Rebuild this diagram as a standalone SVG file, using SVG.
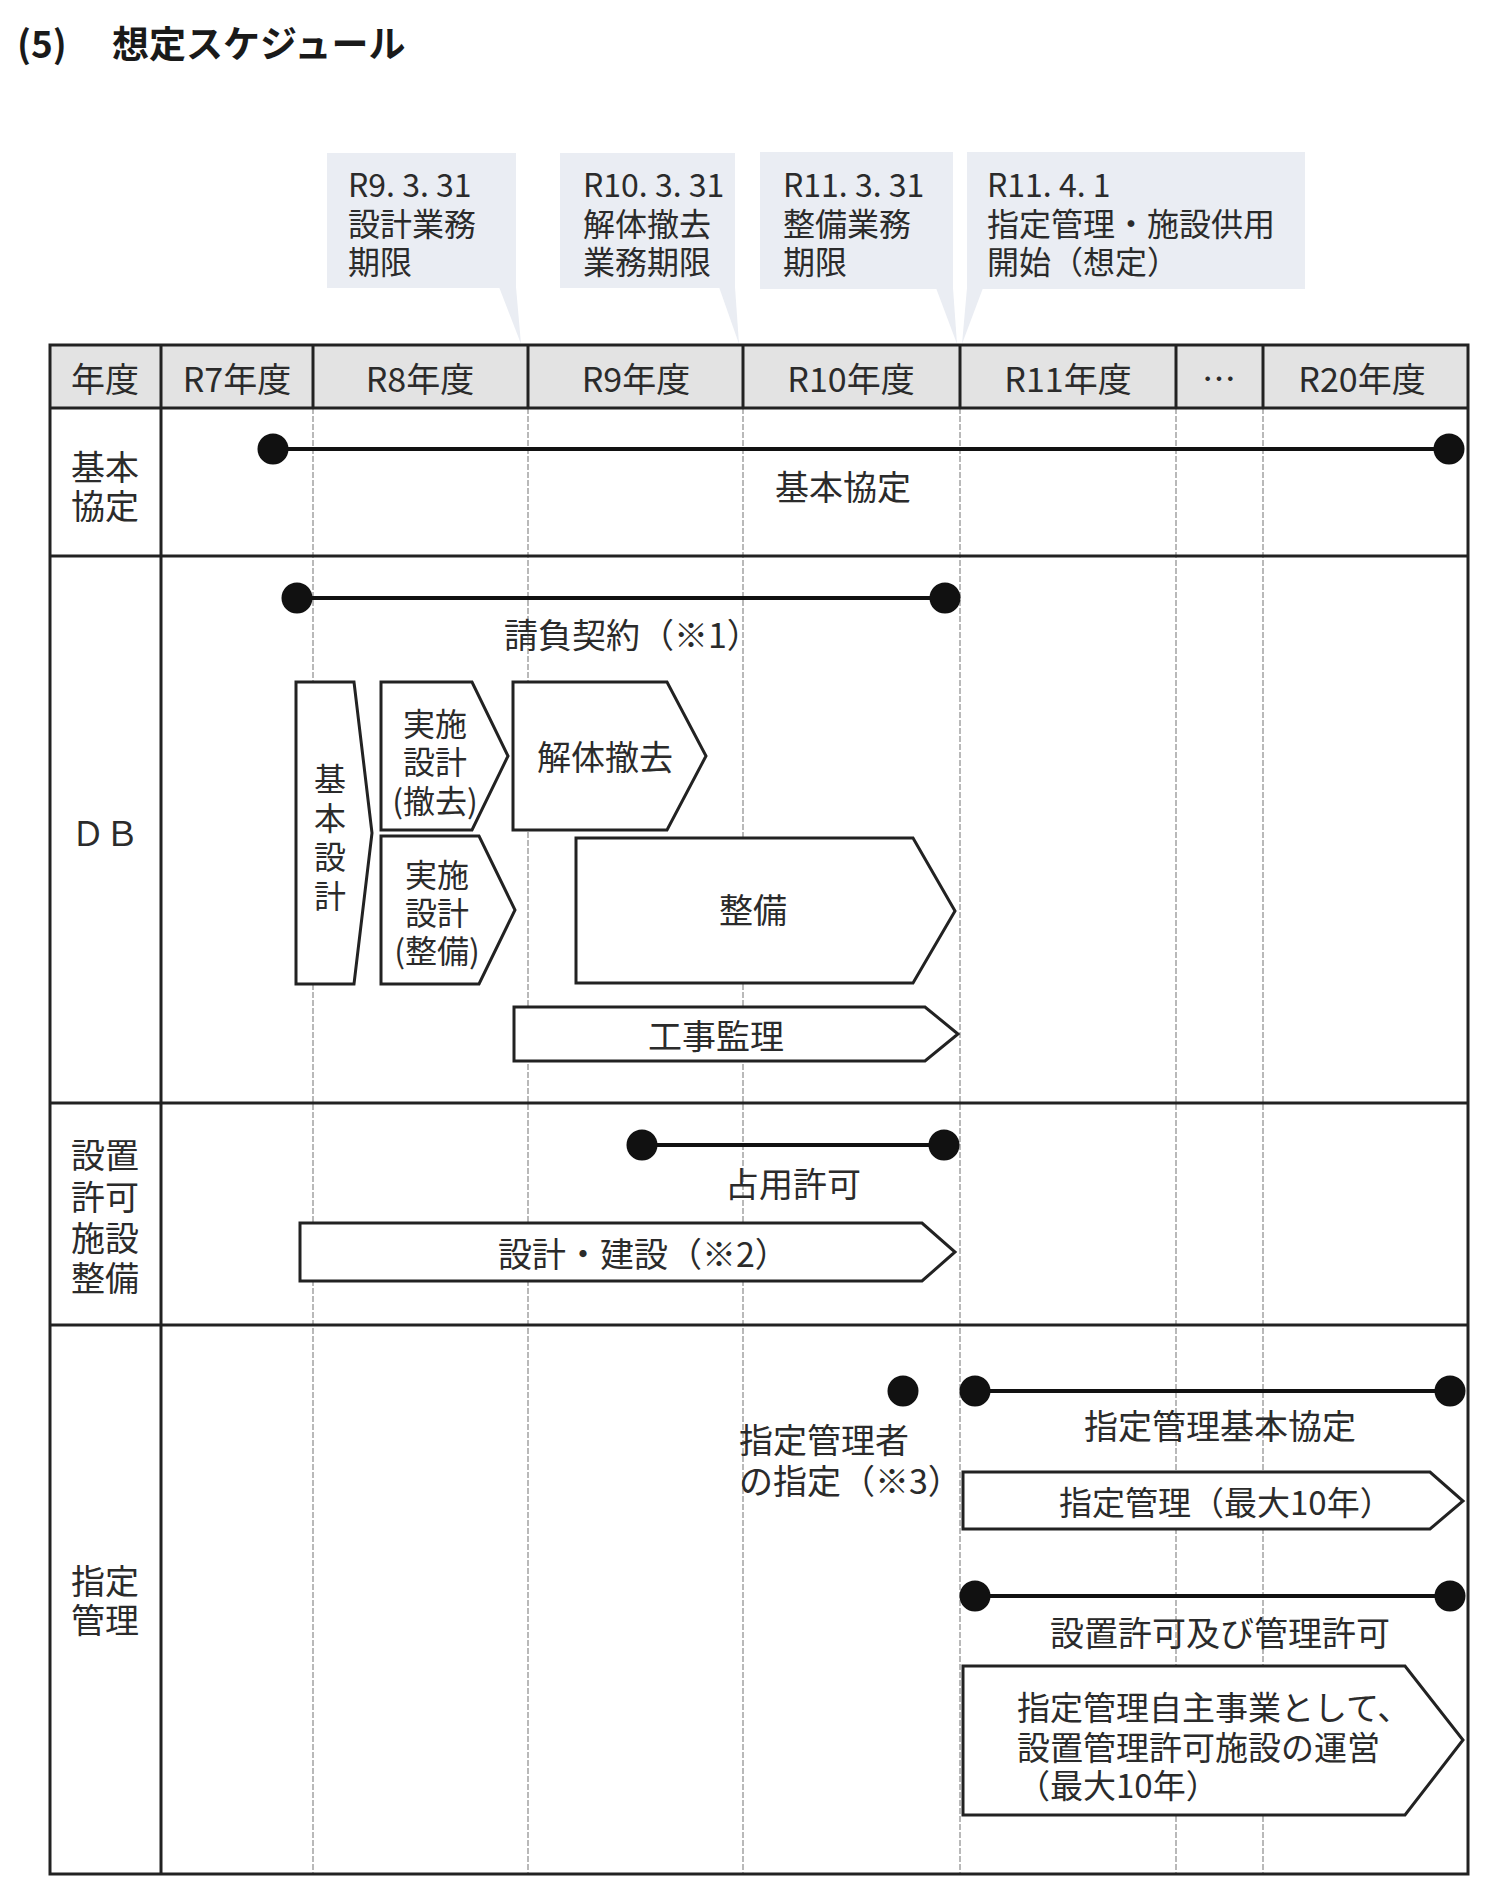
<svg xmlns="http://www.w3.org/2000/svg" width="1498" height="1896" viewBox="0 0 1498 1896">
<style>
text{font-family:"Noto Sans CJK JP","Noto Sans",sans-serif;fill:#2b2b2b;font-size:34px}
.t{font-size:37px;font-weight:bold;fill:#1a1a1a}
.c{font-size:32px}
.s{font-size:32px}
.m{text-anchor:middle}
.tb{stroke:#222;stroke-width:3;fill:none}
.grid{stroke:#a8a8a8;stroke-width:1.6;stroke-dasharray:6 2;fill:none}
.sh{fill:#fff;stroke:#222;stroke-width:3;stroke-linejoin:miter}
.co{fill:#eaedf3}
.bar{stroke:#111;stroke-width:4;fill:none}
.dot{fill:#111}
</style>
<rect width="1498" height="1896" fill="#fff"/>
<g id="title">
<text class="t" y="58"><tspan x="17">(5)</tspan><tspan x="112">想定スケジュール</tspan></text>
</g>
<g id="callouts">
<g id="callout-r9">
<rect class="co" x="327" y="153" width="189" height="135"/>
<polygon class="co" points="499,287 516,287 521,344"/>
<text class="c"><tspan x="348" y="197">R9. 3. 31</tspan><tspan x="348" y="236">設計業務</tspan><tspan x="348" y="274">期限</tspan></text>
</g>
<g id="callout-r10">
<rect class="co" x="560" y="153" width="175" height="135"/>
<polygon class="co" points="719,287 735,287 739,344"/>
<text class="c"><tspan x="583" y="197">R10. 3. 31</tspan><tspan x="583" y="236">解体撤去</tspan><tspan x="583" y="274">業務期限</tspan></text>
</g>
<g id="callout-r11a">
<rect class="co" x="760" y="152" width="193" height="137"/>
<polygon class="co" points="936,288 953,288 957,344"/>
<text class="c"><tspan x="783" y="197">R11. 3. 31</tspan><tspan x="783" y="236">整備業務</tspan><tspan x="783" y="274">期限</tspan></text>
</g>
<g id="callout-r11b">
<rect class="co" x="967" y="152" width="338" height="137"/>
<polygon class="co" points="967,288 983,288 962,344"/>
<text class="c"><tspan x="987" y="197">R11. 4. 1</tspan><tspan x="987" y="236">指定管理・施設供用</tspan><tspan x="987" y="274">開始（想定）</tspan></text>
</g>
</g>
<g id="table">
<rect x="50" y="345" width="1418" height="63" fill="#e3e3e3"/>
<g class="grid">
<line x1="313" y1="408" x2="313" y2="1874"/>
<line x1="528" y1="408" x2="528" y2="1874"/>
<line x1="743" y1="408" x2="743" y2="1874"/>
<line x1="960" y1="408" x2="960" y2="1874"/>
<line x1="1176" y1="408" x2="1176" y2="1874"/>
<line x1="1263" y1="408" x2="1263" y2="1874"/>
</g>
<g class="tb">
<rect x="50" y="345" width="1418" height="1529"/>
<line x1="50" y1="408" x2="1468" y2="408"/>
<line x1="50" y1="556" x2="1468" y2="556"/>
<line x1="50" y1="1103" x2="1468" y2="1103"/>
<line x1="50" y1="1325" x2="1468" y2="1325"/>
<line x1="161" y1="345" x2="161" y2="1874"/>
<line x1="313" y1="345" x2="313" y2="408"/>
<line x1="528" y1="345" x2="528" y2="408"/>
<line x1="743" y1="345" x2="743" y2="408"/>
<line x1="960" y1="345" x2="960" y2="408"/>
<line x1="1176" y1="345" x2="1176" y2="408"/>
<line x1="1263" y1="345" x2="1263" y2="408"/>
</g>
<g id="header-text">
<text class="m" x="105" y="392">年度</text>
<text class="m" x="237" y="392">R7年度</text>
<text class="m" x="420" y="392">R8年度</text>
<text class="m" x="636" y="392">R9年度</text>
<text class="m" x="851" y="392">R10年度</text>
<text class="m" x="1068" y="392">R11年度</text>
<text class="m" x="1219" y="392">…</text>
<text class="m" x="1362" y="392">R20年度</text>
</g>
<g id="row-labels">
<text class="m"><tspan x="105" y="480">基本</tspan><tspan x="105" y="519">協定</tspan></text>
<text class="m" x="105" y="846">ＤＢ</text>
<text class="m"><tspan x="105" y="1168">設置</tspan><tspan x="105" y="1210">許可</tspan><tspan x="105" y="1251">施設</tspan><tspan x="105" y="1291">整備</tspan></text>
<text class="m"><tspan x="105" y="1594">指定</tspan><tspan x="105" y="1633">管理</tspan></text>
</g>
</g>
<g id="connectors">
<line class="bar" x1="273" y1="449" x2="1449" y2="449"/>
<circle class="dot" cx="273" cy="449" r="15.5"/>
<circle class="dot" cx="1449" cy="449" r="15.5"/>
<line class="bar" x1="297" y1="598" x2="945" y2="598"/>
<circle class="dot" cx="297" cy="598" r="15.5"/>
<circle class="dot" cx="945" cy="598" r="15.5"/>
<line class="bar" x1="642" y1="1145" x2="944" y2="1145"/>
<circle class="dot" cx="642" cy="1145" r="15.5"/>
<circle class="dot" cx="944" cy="1145" r="15.5"/>
<circle class="dot" cx="903" cy="1391" r="15.5"/>
<line class="bar" x1="975" y1="1391" x2="1450" y2="1391"/>
<circle class="dot" cx="975" cy="1391" r="15.5"/>
<circle class="dot" cx="1450" cy="1391" r="15.5"/>
<line class="bar" x1="975" y1="1596" x2="1450" y2="1596"/>
<circle class="dot" cx="975" cy="1596" r="15.5"/>
<circle class="dot" cx="1450" cy="1596" r="15.5"/>
</g>
<g id="bar-labels">
<text class="m" x="843" y="500">基本協定</text>
<text x="504" y="648">請負契約（※1）</text>
<text class="m" x="793" y="1197">占用許可</text>
<text><tspan x="739" y="1453">指定管理者</tspan><tspan x="739" y="1494">の指定（※3）</tspan></text>
<text class="m" x="1220" y="1439">指定管理基本協定</text>
<text class="m" x="1220" y="1646">設置許可及び管理許可</text>
</g>
<g id="node-kihon-sekkei">
<polygon class="sh" points="296,682 354,682 372,833 354,984 296,984"/>
<text class="m s"><tspan x="330" y="791">基</tspan><tspan x="330" y="830">本</tspan><tspan x="330" y="869">設</tspan><tspan x="330" y="908">計</tspan></text>
</g>
<g id="node-jisshi-tekkyo">
<polygon class="sh" points="381,682 472,682 508,756 472,830 381,830"/>
<text class="m s"><tspan x="435" y="736">実施</tspan><tspan x="435" y="774">設計</tspan><tspan x="435" y="813">(撤去)</tspan></text>
</g>
<g id="node-jisshi-seibi">
<polygon class="sh" points="381,836 479,836 515,910 479,984 381,984"/>
<text class="m s"><tspan x="437" y="887">実施</tspan><tspan x="437" y="925">設計</tspan><tspan x="437" y="963">(整備)</tspan></text>
</g>
<g id="node-kaitai">
<polygon class="sh" points="513,682 667,682 706,756 667,830 513,830"/>
<text class="m" x="605" y="770">解体撤去</text>
</g>
<g id="node-seibi">
<polygon class="sh" points="576,838 913,838 955,911 913,983 576,983"/>
<text class="m" x="753" y="923">整備</text>
</g>
<g id="node-koji">
<polygon class="sh" points="514,1007 925,1007 958,1034 925,1061 514,1061"/>
<text class="m" x="716" y="1049">工事監理</text>
</g>
<g id="node-sekkei-kensetsu">
<polygon class="sh" points="300,1223 922,1223 955,1252 922,1281 300,1281"/>
<text x="498" y="1267">設計・建設（※2）</text>
</g>
<g id="node-shitei-kanri">
<polygon class="sh" points="963,1472 1430,1472 1463,1501 1430,1529 963,1529"/>
<text x="1059" y="1515" style="font-size:33px">指定管理（最大10年）</text>
</g>
<g id="node-jishu-jigyo">
<polygon class="sh" points="963,1666 1405,1666 1463,1740 1405,1815 963,1815"/>
<text style="font-size:33px"><tspan x="1017" y="1720">指定管理自主事業として、</tspan><tspan x="1017" y="1760">設置管理許可施設の運営</tspan><tspan x="1017" y="1798">（最大10年）</tspan></text>
</g>
</svg>
